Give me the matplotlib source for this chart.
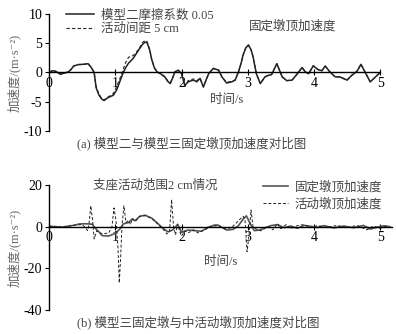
import matplotlib.pyplot as plt

plt.rcParams['font.family'] = ['Liberation Serif', 'Noto Sans CJK SC', 'DejaVu Serif']
plt.rcParams['axes.unicode_minus'] = False

# ---- (a) top panel data ----
t_a = [0, 0.05, 0.1, 0.17, 0.23, 0.29, 0.33, 0.37, 0.44, 0.52, 0.59, 0.64, 0.68, 0.71,
       0.75, 0.79, 0.83, 0.89, 0.97, 1.02, 1.07, 1.12, 1.16, 1.2, 1.27, 1.35, 1.41, 1.45,
       1.48, 1.52, 1.55, 1.59, 1.63, 1.68, 1.75, 1.79, 1.83, 1.87, 1.9, 1.95, 2.0, 2.05,
       2.1, 2.18, 2.23, 2.28, 2.33, 2.37, 2.41, 2.48, 2.56, 2.61, 2.68, 2.76, 2.81, 2.86,
       2.9, 2.93, 2.97, 3.01, 3.05, 3.08, 3.13, 3.19, 3.26, 3.31, 3.36, 3.44, 3.52, 3.59,
       3.67, 3.74, 3.82, 3.87, 3.92, 3.99, 4.06, 4.12, 4.17, 4.24, 4.32, 4.39, 4.5, 4.57,
       4.65, 4.71, 4.77, 4.85, 4.93, 5.0]
friction_005 = [0, 0.3, 0.2, -0.3, -0.1, 0.1, 0.5, 1.1, 1.35, 1.4, 1.5, 0.8, 0, -2.6,
                -3.8, -4.5, -4.8, -4.3, -3.9, -3.0, -1.5, 0, 0.9, 1.6, 2.4, 3.8, 4.8, 5.2,
                5.1, 3.8, 2.2, 0.8, 0.1, -0.2, -0.8, -1.5, -1.9, -0.8, 0.1, 0.4, -0.2, -2.2,
                -1.6, -1.3, -1.6, -1.0, -2.5, -1.3, -0.2, 0.7, 0.4, -0.75, -1.8, -1.6, -1.3, 0.1,
                1.6, 3.0, 4.2, 4.7, 3.9, 2.7, -0.2, -1.9, -0.75, -0.5, -0.35, 1.5, -0.75, -1.4,
                -1.3, -0.35, 0.85, 0.1, -0.2, 1.15, 0.5, 0.3, 1.1, 0.1, -0.75, -0.75, -1.3, -0.5,
                0.2, 1.4, 0.1, -1.6, -0.75, 0]
gap_5cm = [0, 0.3, 0.2, -0.3, -0.1, 0.1, 0.5, 1.1, 1.35, 1.4, 1.5, 0.8, 0, -2.4,
           -3.6, -4.4, -4.7, -4.2, -3.6, -2.4, -1.0, 0.6, 1.8, 2.6, 2.9, 3.9, 5.1, 5.5,
           5.3, 3.9, 2.2, 0.8, 0.1, -0.2, -0.7, -1.4, -1.8, -0.8, 0.1, 0.4, -0.3, -2.4,
           -1.4, -1.1, -1.4, -1.0, -2.4, -1.3, -0.2, 0.7, 0.4, -0.75, -1.7, -1.5, -1.3, 0.1,
           1.6, 3.0, 4.2, 4.7, 3.9, 2.7, -0.2, -1.9, -0.75, -0.5, -0.35, 1.5, -0.75, -1.4,
           -1.3, -0.35, 0.85, 0.1, -0.2, 1.15, 0.5, 0.3, 1.1, 0.1, -0.75, -0.75, -1.3, -0.5,
           0.2, 1.4, 0.1, -1.6, -0.75, 0]

# ---- (b) bottom panel data ----
t_fixed = [0, 0.1, 0.2, 0.3, 0.4, 0.45, 0.55, 0.65, 0.68, 0.72, 0.76, 0.8, 0.9, 1.0,
           1.07, 1.12, 1.2, 1.25, 1.3, 1.37, 1.45, 1.55, 1.65, 1.73, 1.8, 1.87, 1.94, 1.97,
           2.0, 2.1, 2.2, 2.3, 2.4, 2.5, 2.55, 2.62, 2.68, 2.78, 2.86, 2.93, 2.98, 3.04,
           3.1, 3.18, 3.28, 3.35, 3.45, 3.55, 3.65, 3.75, 3.85, 3.95, 4.05, 4.15, 4.3, 4.45,
           4.6, 4.75, 4.85, 4.95, 5.05, 5.15]
acc_fixed = [0.2, 0, -0.2, 0.3, 0.8, 1.3, 1.4, 1.2, 0, -1.5, -2.7, -4.3, -4.5, -3.2,
             -1.1, 1.3, 2.0, 3.6, 2.9, 5.0, 5.5, 4.1, 1.3, -1.1, -2.5, -1.5, 1.0, -0.5,
             -2.7, -1.6, -1.9, -2.2, -0.3, 0.8, 0.8, -0.5, -1.6, -1.3, 0.5, 3.6, 5.2, 1.3,
             -1.9, -1.6, -0.3, 0.5, 1.0, -0.5, 0.3, -0.8, 0.6, 0.2, -0.4, 0.5, -0.6, 0.3,
             -0.5, 0.6, -1.2, -0.3, 0.4, 0]
t_move = [0, 0.2, 0.4, 0.5, 0.55, 0.58, 0.6, 0.63, 0.66, 0.68, 0.72, 0.8, 0.9, 0.95,
          0.98, 1.01, 1.04, 1.06, 1.08, 1.1, 1.13, 1.16, 1.2, 1.23, 1.26, 1.3, 1.37, 1.45,
          1.55, 1.65, 1.73, 1.78, 1.82, 1.85, 1.88, 1.91, 1.94, 1.97, 2.0, 2.05, 2.1, 2.18,
          2.25, 2.35, 2.45, 2.55, 2.65, 2.75, 2.82, 2.88, 2.93, 2.96, 2.99, 3.02, 3.05, 3.08,
          3.12, 3.2, 3.3, 3.38, 3.45, 3.5, 3.58, 3.65, 3.75, 3.85, 3.95, 4.05, 4.2, 4.35,
          4.5, 4.65, 4.8, 4.9, 5.0, 5.1]
acc_move = [0.2, -0.2, 0.8, 1.0, -0.5, -1.9, 0.5, 10, 2, -5.9, -2, -3.5, -3, 0,
            9, 3, -10, -27, -15, 0, 10, 2, 3, 1, 4, 2.5, 5, 5.3,
            4, 1, -1.5, -3.5, -2, 13, 0, -4, 1.3, -2, -4.5, -2, -3, -1.5,
            -3, -1.5, 0, 0.5, -1, -0.5, 1.5, 3.5, 5, 3, -12, -4, 8, 0,
            -1, -2, 0, -1.5, 1.5, -1, 1, -1, 0.5, 1, -0.5, 0.5, -0.3, 0.6,
            -0.5, 0.6, -1.5, 0.3, -0.8, 0.5]

fig = plt.figure(figsize=(3.96, 3.34), dpi=100)
ax1 = fig.add_axes([0.124, 0.608, 0.836, 0.350])
ax2 = fig.add_axes([0.124, 0.072, 0.866, 0.374])

ylabel = '加速度/(m·s⁻²)'
txt = '#444444'


def style_axis(ax, xmax, ylim, yticks):
    ax.set_xlim(0, xmax)
    ax.set_ylim(*ylim)
    ax.set_yticks(yticks)
    ax.set_xticks([0, 1, 2, 3, 4, 5])
    for s in ['top', 'right']:
        ax.spines[s].set_visible(False)
    ax.spines['bottom'].set_position(('data', 0))
    ax.spines['bottom'].set_linewidth(1.0)
    ax.spines['left'].set_linewidth(1.0)
    ax.tick_params(axis='x', direction='inout', length=4, width=0.8, pad=1, labelsize=10)
    ax.tick_params(axis='y', direction='out', length=3, width=0.8, pad=2, labelsize=10)
    ax.set_ylabel(ylabel, fontsize=9, color='#666666', labelpad=2)


# top panel
ax1.plot(t_a, friction_005, color='#222222', lw=1.1, label='模型二摩擦系数 0.05')
ax1.plot(t_a, gap_5cm, color='#222222', lw=0.8, ls=(0, (3, 2)), label='活动间距 5 cm')
style_axis(ax1, 5.0, (-10, 10), [-10, -5, 0, 5, 10])
leg1 = ax1.legend(loc='upper left', bbox_to_anchor=(0.035, 1.08), frameon=False, fontsize=9,
                  handlelength=2.3, handletextpad=0.5, labelspacing=0.1, borderaxespad=0)
for t in leg1.get_texts():
    t.set_color(txt)
ax1.text(0.735, 0.895, '固定墩顶加速度', transform=ax1.transAxes, fontsize=9,
         ha='center', va='center', color=txt)
ax1.text(0.535, 0.265, '时间/s', transform=ax1.transAxes, fontsize=9,
         ha='center', va='center', color=txt)

# bottom panel
ax2.plot(t_fixed, acc_fixed, color='#555555', lw=1.2, label='固定墩顶加速度')
ax2.plot(t_move, acc_move, color='#222222', lw=0.7, ls=(0, (3, 2)), label='活动墩顶加速度')
style_axis(ax2, 5.18, (-40, 20), [-40, -20, 0, 20])
leg2 = ax2.legend(loc='upper right', bbox_to_anchor=(0.985, 1.07), frameon=False, fontsize=9,
                  handlelength=2.0, handletextpad=0.5, labelspacing=0.3, borderaxespad=0)
for t in leg2.get_texts():
    t.set_color(txt)
ax2.text(0.31, 0.995, '支座活动范围2 cm情况', transform=ax2.transAxes, fontsize=9,
         ha='center', va='center', color=txt)
ax2.text(0.50, 0.385, '时间/s', transform=ax2.transAxes, fontsize=9,
         ha='center', va='center', color=txt)

fig.text(0.485, 0.572, '(a) 模型二与模型三固定墩顶加速度对比图', fontsize=9,
         ha='center', va='center', color=txt)
fig.text(0.50, 0.036, '(b) 模型三固定墩与中活动墩顶加速度对比图', fontsize=9,
         ha='center', va='center', color=txt)

fig.savefig('out.png', dpi=100)
